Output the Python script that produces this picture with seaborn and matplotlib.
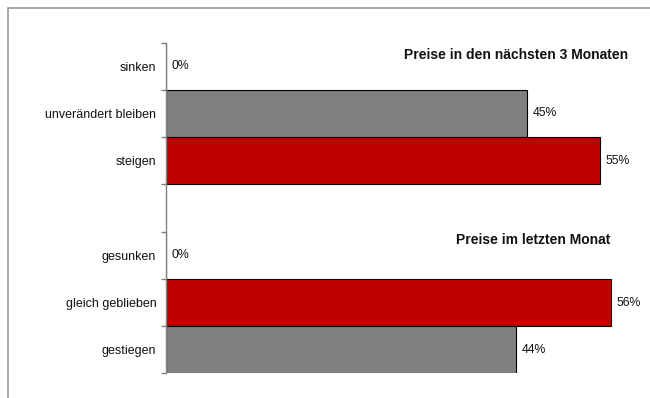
import pandas as pd
import matplotlib.pyplot as plt
import seaborn as sns
from matplotlib.patches import Rectangle

# --- Daten ---
KATEGORIEN = ['sinken', 'unverändert bleiben', 'steigen',
              'gesunken', 'gleich geblieben', 'gestiegen']
WERTE = [0.0, 45.4, 54.6, 0.0, 56.0, 44.0]
FARBEN = ['#808080', '#808080', '#C00000', '#808080', '#C00000', '#808080']
LUECKE = ' '   # leere Zeile zwischen den beiden Blöcken
TITEL_OBEN = 'Preise in den nächsten 3 Monaten'
TITEL_UNTEN = 'Preise im letzten Monat'

df = pd.DataFrame({'kategorie': KATEGORIEN, 'wert': WERTE})
reihenfolge = KATEGORIEN[:3] + [LUECKE] + KATEGORIEN[3:]

sns.set_style('white')
plt.rcParams['font.family'] = ['Liberation Sans', 'DejaVu Sans']

fig = plt.figure(figsize=(6.5, 3.98), dpi=100)
ax = fig.add_axes([0.2554, 0.0616, 0.734, 0.8316])

sns.barplot(data=df, x='wert', y='kategorie', hue='kategorie',
            order=reihenfolge, hue_order=KATEGORIEN,
            palette=dict(zip(KATEGORIEN, FARBEN)), legend=False,
            saturation=1, width=1.0, edgecolor='black', linewidth=0.8,
            errorbar=None, ax=ax)

for cont in ax.containers:
    ax.bar_label(cont, fmt='%.0f%%', padding=4, fontsize=8.8, color='#111111')

ax.set_xlim(0, 60)
ax.set_ylim(len(reihenfolge) - 0.5, -0.5)

# Beschriftungen in der Mitte, Striche an den Grenzen
ax.set_yticks(range(len(reihenfolge)), minor=True)
ax.set_yticklabels(['' if k == LUECKE else k for k in reihenfolge], minor=True)
ax.set_yticks([i - 0.5 for i in range(len(reihenfolge) + 1)])
ax.set_yticklabels([])
ax.tick_params(axis='y', which='minor', length=0, pad=7, labelsize=9,
               labelcolor='#111111')
ax.tick_params(axis='y', which='major', length=3.5, width=1, color='#808080', left=True)
ax.set_xticks([])
ax.set_xlabel('')
ax.set_ylabel('')

for s in ['top', 'right', 'bottom']:
    ax.spines[s].set_visible(False)
ax.spines['left'].set_color('#808080')
ax.spines['left'].set_linewidth(1)

fig.text(0.9662, 0.862, TITEL_OBEN, ha='right', va='center',
         fontsize=10, fontweight='bold', color='#111111')
fig.text(0.9385, 0.397, TITEL_UNTEN, ha='right', va='center',
         fontsize=10, fontweight='bold', color='#111111')

# Rahmen des Diagrammbereichs (rechts und unten abgeschnitten)
fig.patches.append(Rectangle((8 / 650, -0.2), 1.2, 0.2 + (398 - 7.5) / 398,
                             transform=fig.transFigure, fill=False,
                             edgecolor='#9a9a9a', linewidth=1.2))

fig.savefig('out.png', dpi=100)
